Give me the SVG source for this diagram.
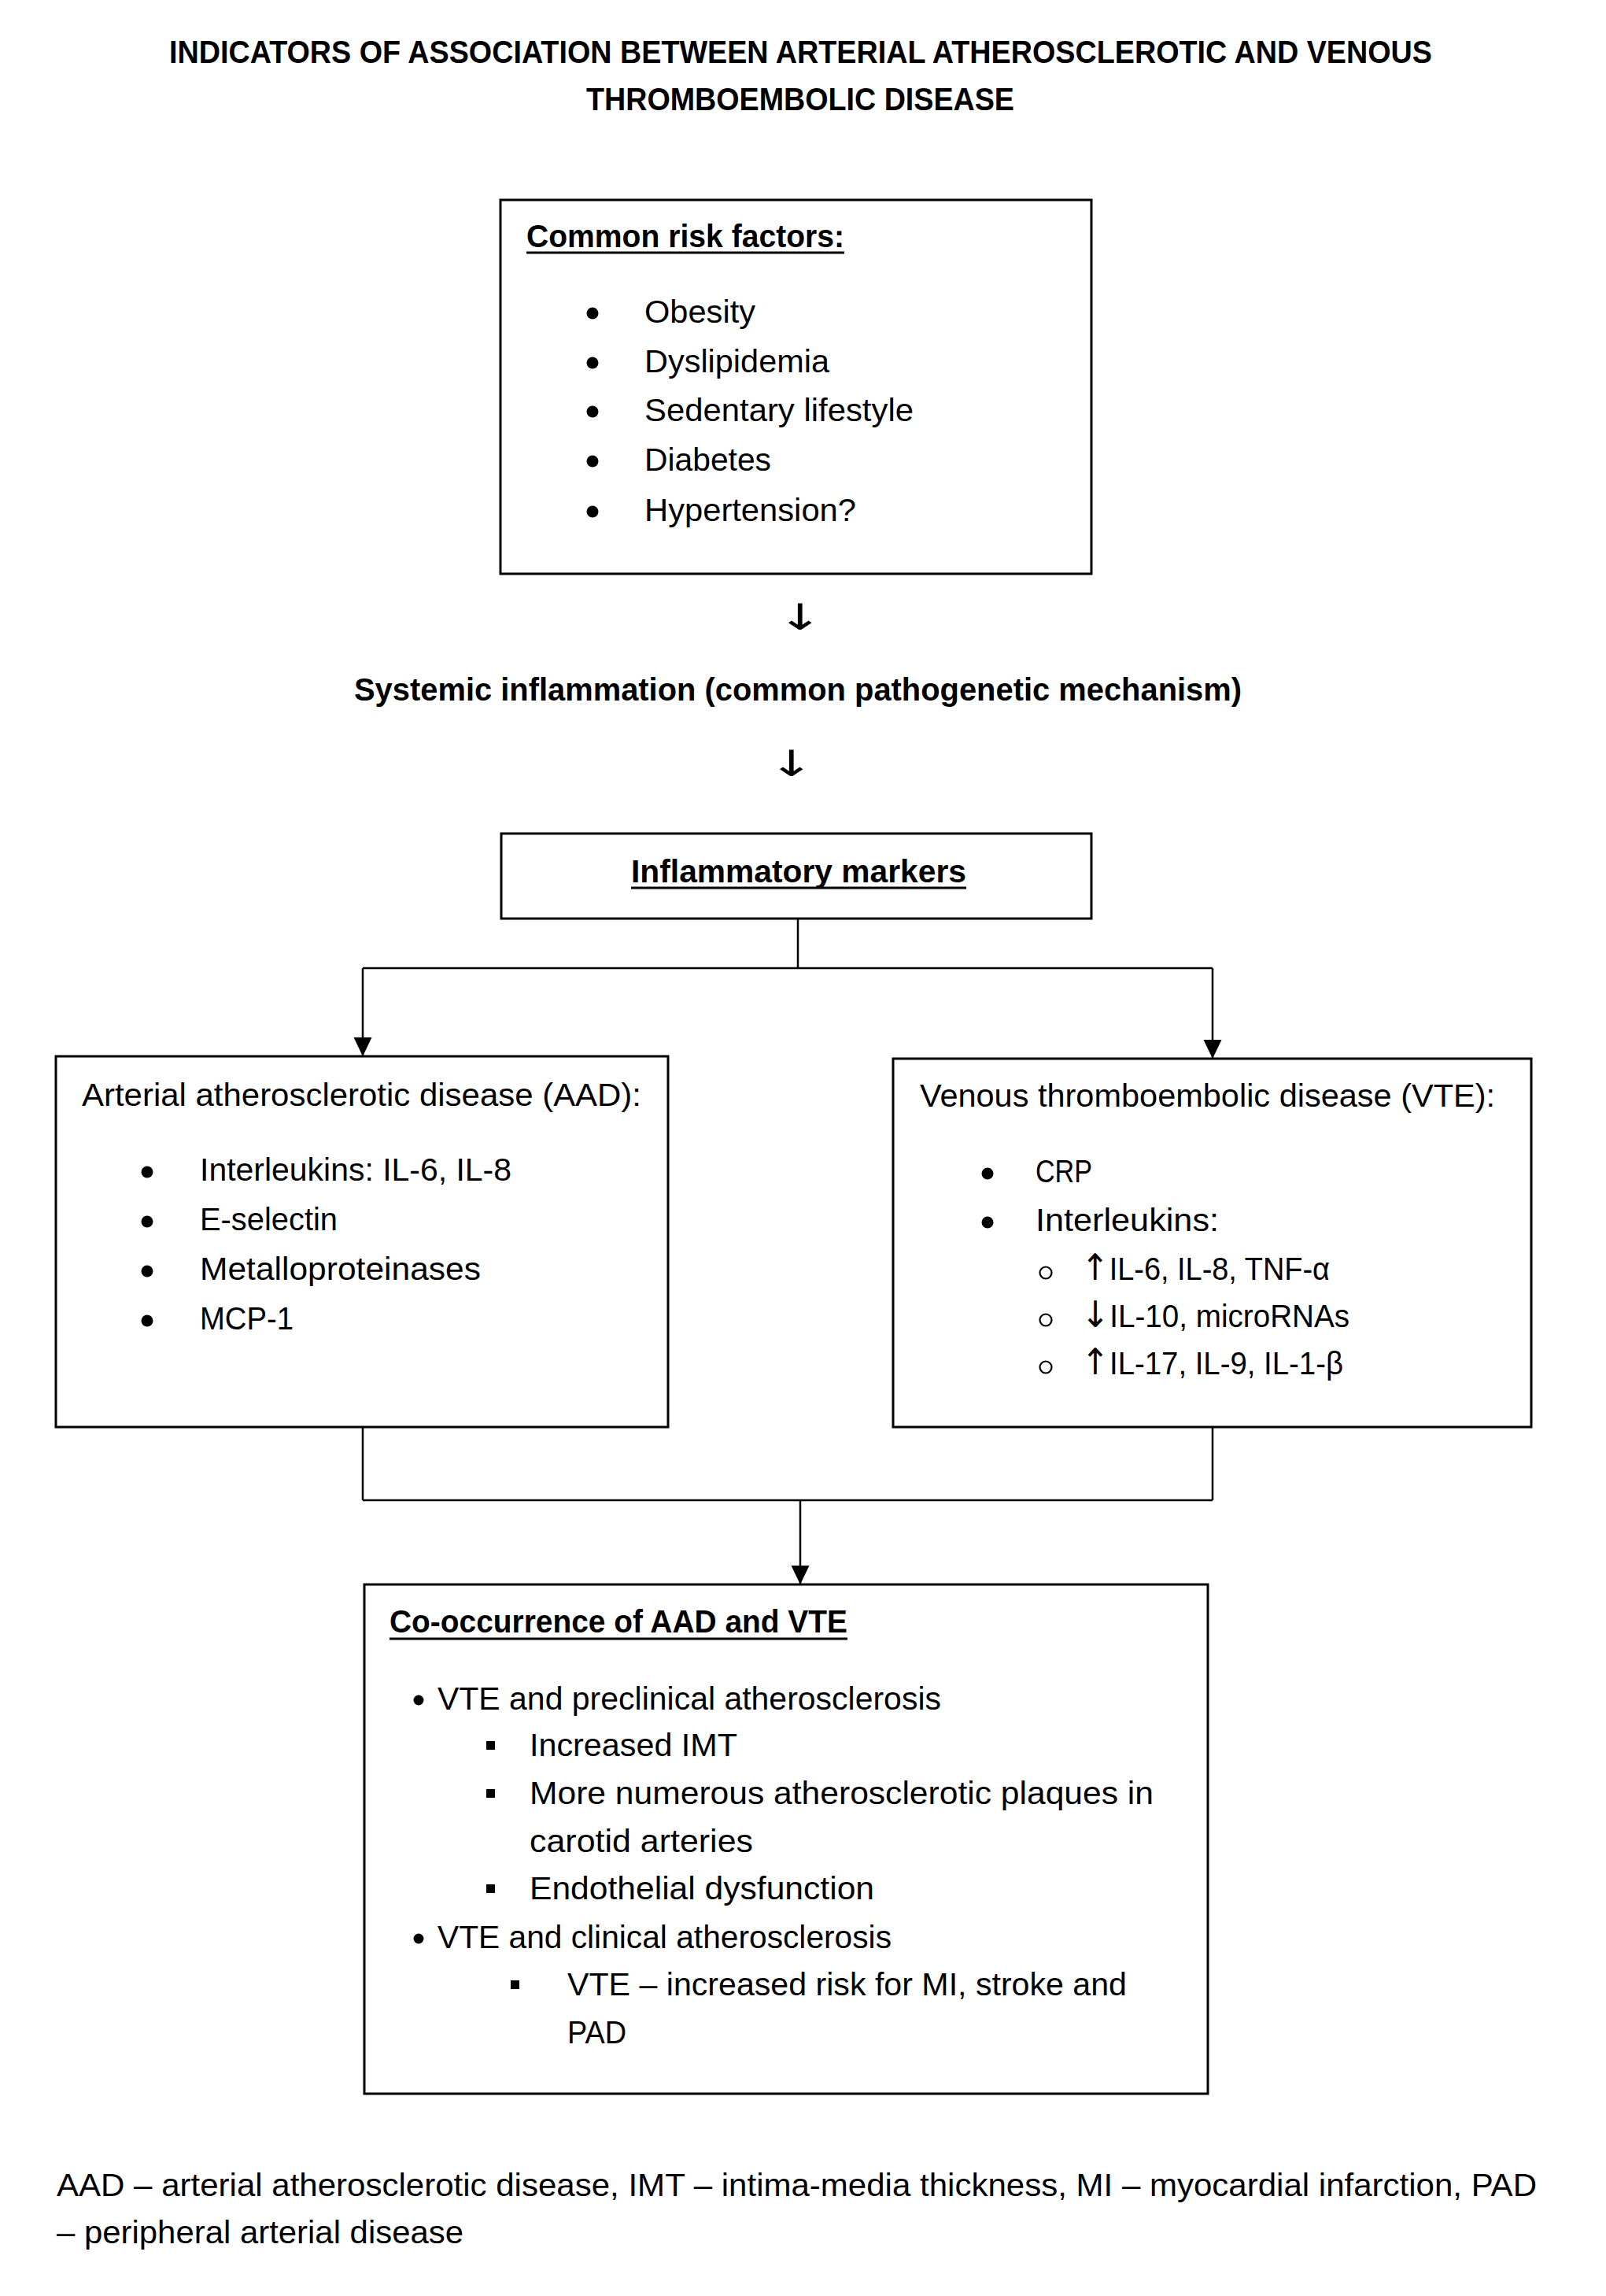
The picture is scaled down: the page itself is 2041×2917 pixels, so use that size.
<svg xmlns="http://www.w3.org/2000/svg" width="2041" height="2917" viewBox="0 0 2041 2917">
<style>
text{font-family:"Liberation Sans",Arial,sans-serif;font-size:41px;fill:#000}
.b{font-weight:bold}
.ar{font-family:"DejaVu Sans",sans-serif;font-size:46px}
.box{fill:#fff;stroke:#000;stroke-width:3}
.ln{fill:none;stroke:#000;stroke-width:2.5}
.ul{stroke:#000;stroke-width:3}
.dot{fill:#000}
.hol{fill:none;stroke:#000;stroke-width:2.2}
</style>
<defs>
<marker id="ah" markerUnits="userSpaceOnUse" markerWidth="24" markerHeight="26" refX="24" refY="11.5" orient="auto">
<path d="M0,0 L24,11.5 L0,23 z" fill="#000"/>
</marker>
</defs>
<rect width="2041" height="2917" fill="#fff"/>

<g id="title">
<text class="b" x="215" y="80" textLength="1605" lengthAdjust="spacingAndGlyphs">INDICATORS OF ASSOCIATION BETWEEN ARTERIAL ATHEROSCLEROTIC AND VENOUS</text>
<text class="b" x="745" y="140" textLength="544" lengthAdjust="spacingAndGlyphs">THROMBOEMBOLIC DISEASE</text>
</g>

<g id="connectors">
<line class="ln" x1="1014" y1="1167" x2="1014" y2="1230"/>
<line class="ln" x1="461" y1="1230" x2="1541" y2="1230"/>
<line class="ln" x1="461" y1="1230" x2="461" y2="1342" marker-end="url(#ah)"/>
<line class="ln" x1="1541" y1="1230" x2="1541" y2="1345" marker-end="url(#ah)"/>
<line class="ln" x1="461" y1="1813" x2="461" y2="1906"/>
<line class="ln" x1="1541" y1="1813" x2="1541" y2="1906"/>
<line class="ln" x1="461" y1="1906" x2="1541" y2="1906"/>
<line class="ln" x1="1017" y1="1906" x2="1017" y2="2013" marker-end="url(#ah)"/>
<text class="ar" transform="translate(1017,800) scale(1.5,1)" text-anchor="middle">↓</text>
<text class="ar" transform="translate(1006,986) scale(1.5,1)" text-anchor="middle">↓</text>
</g>

<g id="risk-factors">
<rect class="box" x="636" y="254" width="751" height="475"/>
<text class="b" x="669" y="314" textLength="404" lengthAdjust="spacingAndGlyphs">Common risk factors:</text>
<line class="ul" x1="669" y1="321" x2="1073" y2="321"/>
<circle class="dot" cx="753" cy="398" r="7.5"/>
<circle class="dot" cx="753" cy="461" r="7.5"/>
<circle class="dot" cx="753" cy="523" r="7.5"/>
<circle class="dot" cx="753" cy="586" r="7.5"/>
<circle class="dot" cx="753" cy="650" r="7.5"/>
<text x="819" y="410" textLength="141" lengthAdjust="spacingAndGlyphs">Obesity</text>
<text x="819" y="473" textLength="235" lengthAdjust="spacingAndGlyphs">Dyslipidemia</text>
<text x="819" y="535" textLength="342" lengthAdjust="spacingAndGlyphs">Sedentary lifestyle</text>
<text x="819" y="598" textLength="161" lengthAdjust="spacingAndGlyphs">Diabetes</text>
<text x="819" y="662" textLength="269" lengthAdjust="spacingAndGlyphs">Hypertension?</text>
</g>

<g id="systemic-inflammation">
<text class="b" x="450" y="890" textLength="1128" lengthAdjust="spacingAndGlyphs">Systemic inflammation (common pathogenetic mechanism)</text>
</g>

<g id="inflammatory-markers">
<rect class="box" x="637" y="1059" width="750" height="108"/>
<text class="b" x="802" y="1121" textLength="426" lengthAdjust="spacingAndGlyphs">Inflammatory markers</text>
<line class="ul" x1="802" y1="1128" x2="1228" y2="1128"/>
</g>

<g id="aad">
<rect class="box" x="71" y="1342" width="778" height="471"/>
<text x="104" y="1405" textLength="711" lengthAdjust="spacingAndGlyphs">Arterial atherosclerotic disease (AAD):</text>
<circle class="dot" cx="187" cy="1489" r="7.5"/>
<circle class="dot" cx="187" cy="1552" r="7.5"/>
<circle class="dot" cx="187" cy="1615" r="7.5"/>
<circle class="dot" cx="187" cy="1678" r="7.5"/>
<text x="254" y="1500" textLength="396" lengthAdjust="spacingAndGlyphs">Interleukins: IL-6, IL-8</text>
<text x="254" y="1563" textLength="175" lengthAdjust="spacingAndGlyphs">E-selectin</text>
<text x="254" y="1626" textLength="357" lengthAdjust="spacingAndGlyphs">Metalloproteinases</text>
<text x="254" y="1689" textLength="119" lengthAdjust="spacingAndGlyphs">MCP-1</text>
</g>

<g id="vte">
<rect class="box" x="1135" y="1345" width="811" height="468"/>
<text x="1169" y="1406" textLength="731" lengthAdjust="spacingAndGlyphs">Venous thromboembolic disease (VTE):</text>
<circle class="dot" cx="1255" cy="1491" r="7.5"/>
<circle class="dot" cx="1255" cy="1553" r="7.5"/>
<text x="1316" y="1502" textLength="72" lengthAdjust="spacingAndGlyphs">CRP</text>
<text x="1316" y="1564" textLength="233" lengthAdjust="spacingAndGlyphs">Interleukins:</text>
<circle class="hol" cx="1329" cy="1617" r="7.5"/>
<circle class="hol" cx="1329" cy="1677" r="7.5"/>
<circle class="hol" cx="1329" cy="1737" r="7.5"/>
<text x="1374" y="1626" textLength="316" lengthAdjust="spacingAndGlyphs"><tspan class="ar">↑</tspan>IL-6, IL-8, TNF-α</text>
<text x="1374" y="1686" textLength="341" lengthAdjust="spacingAndGlyphs"><tspan class="ar">↓</tspan>IL-10, microRNAs</text>
<text x="1374" y="1746" textLength="333" lengthAdjust="spacingAndGlyphs"><tspan class="ar">↑</tspan>IL-17, IL-9, IL-1-β</text>
</g>

<g id="co-occurrence">
<rect class="box" x="463" y="2013" width="1072" height="647"/>
<text class="b" x="495" y="2074" textLength="582" lengthAdjust="spacingAndGlyphs">Co-occurrence of AAD and VTE</text>
<line class="ul" x1="495" y1="2082" x2="1077" y2="2082"/>
<circle class="dot" cx="532" cy="2160" r="6.5"/>
<text x="556" y="2172" textLength="640" lengthAdjust="spacingAndGlyphs">VTE and preclinical atherosclerosis</text>
<rect class="dot" x="618" y="2212" width="11" height="11"/>
<text x="673" y="2231" textLength="264" lengthAdjust="spacingAndGlyphs">Increased IMT</text>
<rect class="dot" x="618" y="2273" width="11" height="11"/>
<text x="673" y="2292" textLength="793" lengthAdjust="spacingAndGlyphs">More numerous atherosclerotic plaques in</text>
<text x="673" y="2353" textLength="284" lengthAdjust="spacingAndGlyphs">carotid arteries</text>
<rect class="dot" x="618" y="2394" width="11" height="11"/>
<text x="673" y="2413" textLength="438" lengthAdjust="spacingAndGlyphs">Endothelial dysfunction</text>
<circle class="dot" cx="532" cy="2463" r="6.5"/>
<text x="556" y="2475" textLength="577" lengthAdjust="spacingAndGlyphs">VTE and clinical atherosclerosis</text>
<rect class="dot" x="649" y="2516" width="11" height="11"/>
<text x="721" y="2535" textLength="711" lengthAdjust="spacingAndGlyphs">VTE – increased risk for MI, stroke and</text>
<text x="721" y="2596" textLength="75" lengthAdjust="spacingAndGlyphs">PAD</text>
</g>

<g id="footnote">
<text x="72" y="2790" textLength="1881" lengthAdjust="spacingAndGlyphs">AAD – arterial atherosclerotic disease, IMT – intima-media thickness, MI – myocardial infarction, PAD</text>
<text x="72" y="2850" textLength="517" lengthAdjust="spacingAndGlyphs">– peripheral arterial disease</text>
</g>
</svg>
